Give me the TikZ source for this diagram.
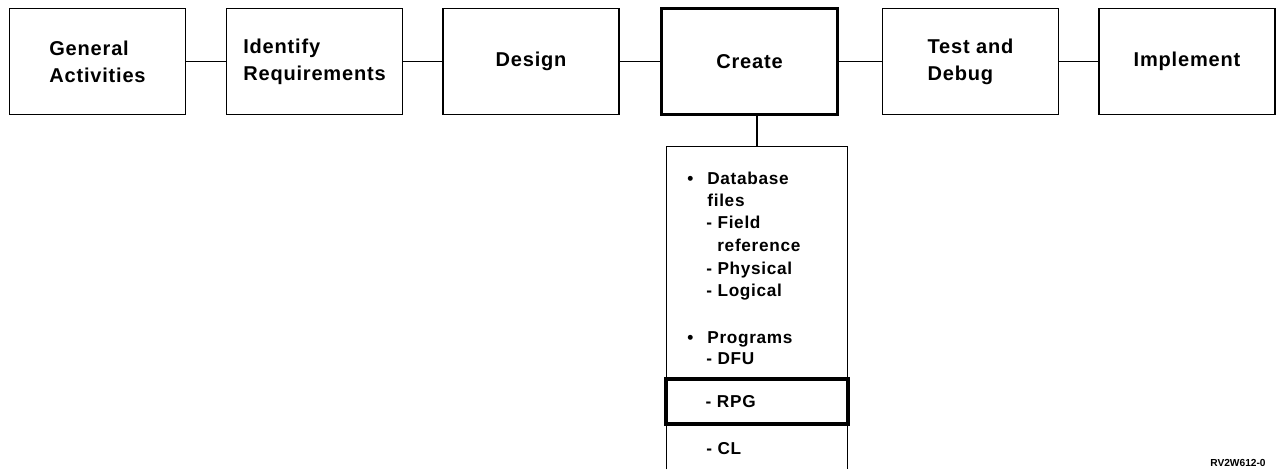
\documentclass[tikz,border=0pt]{standalone}
\usepackage{fontspec}
\setmainfont{Liberation Sans}
\newfontfamily\phasefont{Liberation Sans}[LetterSpace=4]
\newfontfamily\listfont{Liberation Sans}[LetterSpace=4]
\newfontfamily\tagfont{Liberation Sans}

\begin{document}
\begin{tikzpicture}[
    phase/.style={rectangle, draw, line width=0.8pt, minimum width=3.52cm, minimum height=2.12cm, align=left, font=\phasefont\bfseries\fontsize{11.4}{15.4}\selectfont},
    cur/.style={phase, line width=2.2pt},
    item/.style={anchor=base west, inner sep=0pt, font=\listfont\bfseries\fontsize{9.8}{12.8}\selectfont},
    link/.style={line width=0.8pt},
]
    \useasboundingbox (0,0) rectangle (25.52,-9.38);

    % Row 1: the six phases
    \node[phase] (gen)    at (1.95, -1.23)  {General\\Activities};
    \node[phase] (ident)  at (6.29, -1.23)  {Identify\\Requirements};
    \node[phase] (design) at (10.62, -1.23) {Design};
    \node[cur]   (create) at (14.99, -1.23) {Create};
    \node[phase] (test)   at (19.41, -1.23) {Test and\\Debug};
    \node[phase] (impl)   at (23.74, -1.23) {Implement};

    % Links between phases
    \draw[link] (gen) -- (ident);
    \draw[link] (ident) -- (design);
    \draw[link] (design) -- (create);
    \draw[link] (create) -- (test);
    \draw[link] (test) -- (impl);

    % Open list below Create
    \node[minimum width=3.6cm, minimum height=6.44cm, inner sep=0pt] (lst) at (15.14, -6.16) {};
    \draw[link] (lst.south west) -- (lst.north west) -- (lst.north east) -- (lst.south east);
    \draw[link] (lst.north) -- (lst.north |- create.south);

    % List entries
    \foreach \xx/\yy/\txt [count=\i] in {
        13.74/-3.68/{\makebox[0.4cm][l]{\textbullet}Database},
        14.14/-4.12/{files},
        14.12/-4.56/{- Field},
        14.34/-5.02/{reference},
        14.12/-5.48/{- Physical},
        14.12/-5.92/{- Logical},
        13.74/-6.86/{\makebox[0.4cm][l]{\textbullet}Programs},
        14.12/-7.28/{- DFU},
        14.12/-9.08/{- CL}}
        \node[item] (it\i) at (\xx, \yy) {\txt};

    % Highlighted entry
    \node[draw, line width=2.2pt, text width=2.06cm, inner xsep=0.79cm, minimum height=0.9cm, align=left, font=\listfont\bfseries\fontsize{9.8}{12.8}\selectfont] (rpg) at (15.14, -8.03) {- RPG};

    % Figure tag
    \node[anchor=south east, inner sep=0pt, font=\tagfont\bfseries\fontsize{5.8}{6}\selectfont] (tag) at (25.32, -9.34) {RV2W612-0};
\end{tikzpicture}
\end{document}
